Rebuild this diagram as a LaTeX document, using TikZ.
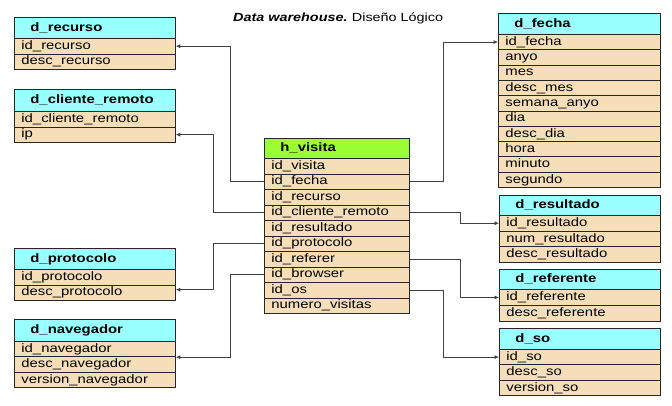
\documentclass[tikz,border=0pt]{standalone}
\usepackage{fontspec}
\setmainfont{Liberation Sans}[FakeStretch=1.22]
\usetikzlibrary{arrows.meta}
\definecolor{hdrcyan}{HTML}{99FFFF}
\definecolor{hdrgreen}{HTML}{99FF33}
\definecolor{rowfill}{HTML}{F5DEB8}
\tikzset{
 tablecell/.style={draw=black!85, line width=0.8pt, rectangle, anchor=north west, align=left, inner ysep=0pt, text height=8.8pt, text depth=2.2pt},
 rowcell/.style={tablecell, fill=rowfill, inner xsep=7pt, font=\fontsize{12.2}{13}\selectfont},
 headcell/.style={tablecell, inner xsep=16pt, font=\fontsize{12.2}{13}\selectfont\bfseries},
 conn/.style={draw=black!75, line width=0.7pt, -{Latex[length=4.5pt,width=4pt]}},
}
\newcommand\dbtable[9]{%
 \pgfmathsetmacro\hw{#3-#2-32}%
 \pgfmathsetmacro\rw{#3-#2-14}%
 \pgfmathsetmacro\hh{#5-#4}%
 \node[headcell, fill=#7, text width=\hw pt, minimum height=\hh pt] (#1) at (#2,#4) {#8};
 \foreach \rowtxt [count=\i] in {#9} {
   \pgfmathsetmacro\yy{#5+(\i-1)*#6}
   \node[rowcell, text width=\rw pt, minimum height=#6 pt] (#1-\i) at (#2,\yy) {\rowtxt};
 }
}
\begin{document}
\begin{tikzpicture}[x=1pt,y=-1pt]
\useasboundingbox[fill=white] (0,0) rectangle (672,405);
\node[anchor=base west, inner sep=0pt, font=\fontsize{11.8}{13}\selectfont] (title) at (233,21.7) {\textbf{\textit{Data warehouse.}}\hspace{-1pt} Diseño Lógico};

\dbtable{rec}{14}{175}{17}{38}{15.5}{hdrcyan}{d\_recurso}{id\_recurso,desc\_recurso}
\dbtable{cli}{14}{175}{89}{111}{15.5}{hdrcyan}{d\_cliente\_remoto}{id\_cliente\_remoto,ip}
\dbtable{pro}{14}{175}{248}{269}{15.5}{hdrcyan}{d\_protocolo}{id\_protocolo,desc\_protocolo}
\dbtable{nav}{14}{175}{319}{341}{15.33}{hdrcyan}{d\_navegador}{id\_navegador,desc\_navegador,version\_navegador}
\dbtable{hv}{264}{409}{138}{158}{15.5}{hdrgreen}{h\_visita}{id\_visita,id\_fecha,id\_recurso,id\_cliente\_remoto,id\_resultado,id\_protocolo,id\_referer,id\_browser,id\_os,numero\_visitas}
\dbtable{fec}{498}{660}{13}{34}{15.3}{hdrcyan}{d\_fecha}{id\_fecha,anyo,mes,desc\_mes,semana\_anyo,dia,desc\_dia,hora,minuto,segundo}
\dbtable{res}{499}{660}{195}{215}{15.67}{hdrcyan}{d\_resultado}{id\_resultado,num\_resultado,desc\_resultado}
\dbtable{ref}{499}{660}{269}{289}{16}{hdrcyan}{d\_referente}{id\_referente,desc\_referente}
\dbtable{so}{499}{660}{328}{349}{15.4}{hdrcyan}{d\_so}{id\_so,desc\_so,version\_so}

% left connectors
\draw[conn] (hv-2.west) -| ([xshift=55pt]rec-1.east) -- (rec-1.east);
\draw[conn] (hv-4.west) -| ([xshift=38pt]cli-2.east) -- (cli-2.east);
\draw[conn] (hv-6.west) -| ([xshift=38pt,yshift=3pt]pro-2.east) -- ([yshift=3pt]pro-2.east);
\draw[conn] (hv-8.west) -| ([xshift=55pt]nav-1.south east) -- (nav-1.south east);
% right connectors
\draw[conn] (hv-2.east) -| ([xshift=-55pt]fec-1.west) -- (fec-1.west);
\draw[conn] (hv-4.east) -| ([xshift=-39pt]res-1.west) -- (res-1.west);
\draw[conn] (hv-7.east) -| ([xshift=-39pt]ref-1.west) -- (ref-1.west);
\draw[conn] (hv-9.east) -| ([xshift=-56pt]so-1.west) -- (so-1.west);
\end{tikzpicture}
\end{document}
